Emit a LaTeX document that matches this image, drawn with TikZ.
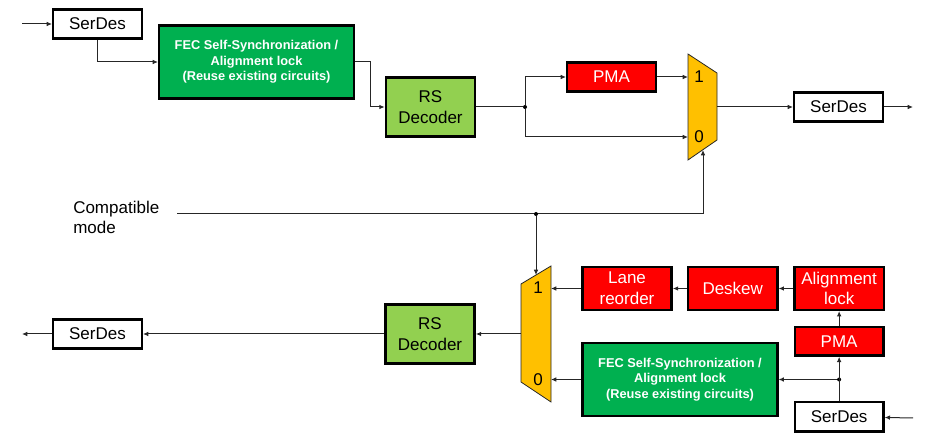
\documentclass[tikz,border=0pt]{standalone}
\usepackage{fontspec}
\setmainfont{Liberation Sans}
\usetikzlibrary{arrows.meta,positioning}

\definecolor{fecgreen}{HTML}{00B050}
\definecolor{rsgreen}{HTML}{92D050}
\definecolor{muxyellow}{HTML}{FFC000}

\begin{document}
\begin{tikzpicture}[x=0.75pt,y=-0.75pt,>={Latex[length=4pt,width=3.5pt]},
  font=\fontsize{12.75}{15.5}\selectfont,
  box/.style={draw,line width=1.8pt,minimum width=66.5pt,minimum height=22pt,inner sep=1pt,align=center},
  serdes/.style={box,fill=white},
  fec/.style={box,fill=fecgreen,text=white,minimum width=146pt,minimum height=55pt,
              font=\fontsize{9.6}{11.6}\selectfont\bfseries},
  rs/.style={box,fill=rsgreen,minimum width=67pt,minimum height=44pt},
  redbox/.style={box,fill=red,text=white,minimum height=21.5pt},
  tallred/.style={redbox,minimum width=67pt,minimum height=32pt},
  mux/.style={draw=black!85,line width=0.6pt,fill=muxyellow},
  port/.style={inner sep=0pt},
  wire/.style={draw=black!85,line width=0.75pt},
  arr/.style={wire,->},
  dot/.style={circle,fill=black,inner sep=0pt,minimum size=3pt}]

  \useasboundingbox (0,0) rectangle (928,434);

  % ==========================================
  % TOP: TRANSMIT PATH
  % ==========================================
  \node[serdes] (sd_in) at (97.5,24) {SerDes};
  \coordinate (tx_in) at (22,24);
  \node[fec] (fec_tx) at (256.5,62) {FEC Self-Synchronization /\\Alignment lock\\(Reuse existing circuits)};
  \node[rs] (rs_tx) at (430.5,107) {RS\\Decoder};
  \node[dot] (split_tx) at (525,107) {};
  \node[redbox] (pma_tx) at (611.5,77) {PMA};

  % Top multiplexer
  \draw[mux] (688,54) -- (717,73) -- (717,140) -- (688,160) -- cycle;
  \node[port] (mux_tx_lbl1) at (699,77) {1};
  \node[port] (mux_tx_lbl0) at (699,137) {0};
  \coordinate (mux_tx_1) at (688,77);
  \coordinate (mux_tx_0) at (688,137);
  \coordinate (mux_tx_out) at (717,107);
  \coordinate (mux_tx_sel) at (703,150);

  \node[serdes] (sd_tx_out) at (838.5,107) {SerDes};
  \coordinate (tx_out) at (913,107);

  \draw[arr] (tx_in) -- (sd_in);
  \draw[arr] (sd_in) |- (fec_tx);
  \draw[arr] (fec_tx.east) -- ++(15,0) |- (rs_tx);
  \draw[wire] (rs_tx) -- (split_tx);
  \draw[arr] (split_tx) |- (pma_tx);
  \draw[arr] (split_tx) |- (mux_tx_0);
  \draw[arr] (pma_tx) -- (mux_tx_1);
  \draw[arr] (mux_tx_out) -- (sd_tx_out);
  \draw[arr] (sd_tx_out) -- (tx_out);

  % ==========================================
  % COMPATIBLE MODE SELECT
  % ==========================================
  \node[inner sep=0pt,anchor=west,align=left,font=\fontsize{12.75}{15}\selectfont] (mode) at (73,217) {Compatible\\mode};
  \coordinate (mode_end) at (177,214);
  \draw[arr] (mode_end) -| (mux_tx_sel);
  \node[dot] (split_mode) at (536,214) {};

  % ==========================================
  % BOTTOM: RECEIVE PATH
  % ==========================================
  % Bottom multiplexer
  \draw[mux] (521,284) -- (551,266) -- (551,402) -- (521,382) -- cycle;
  \node[port] (mux_rx_lbl1) at (538,288) {1};
  \node[port] (mux_rx_lbl0) at (538,380) {0};
  \coordinate (mux_rx_1) at (551,288.5);
  \coordinate (mux_rx_0) at (551,379.5);
  \coordinate (mux_rx_out) at (521,334);
  \coordinate (mux_rx_sel) at (536,275);

  \node[tallred] (lane) at (627,288.5) {Lane\\reorder};
  \node[tallred,right=10.5pt of lane] (deskew) {Deskew};
  \node[tallred,right=11pt of deskew] (align) {Alignment\\lock};
  \node[redbox,below=11pt of align] (pma_rx) {PMA};
  \node[serdes,below=33pt of pma_rx] (sd_rx_in) {SerDes};
  \node[fec] (fec_rx) at (680,379.5) {FEC Self-Synchronization /\\Alignment lock\\(Reuse existing circuits)};
  \node[dot] (split_rx) at (sd_rx_in.north |- fec_rx.east) {};
  \coordinate (rx_in) at (913,418);

  \node[rs] (rs_rx) at (430,334) {RS\\Decoder};
  \node[serdes] (sd_rx_out) at (97.5,334) {SerDes};
  \coordinate (rx_out) at (22,334);

  \draw[arr] (rx_in) -- (sd_rx_in);
  \draw[arr] (sd_rx_in) -- (pma_rx);
  \draw[arr] (split_rx) -- (fec_rx);
  \draw[arr] (pma_rx) -- (align);
  \draw[arr] (align) -- (deskew);
  \draw[arr] (deskew) -- (lane);
  \draw[arr] (lane) -- (mux_rx_1);
  \draw[arr] (fec_rx) -- (mux_rx_0);
  \draw[arr] (split_mode) -- (mux_rx_sel);
  \draw[arr] (mux_rx_out) -- (rs_rx);
  \draw[arr] (rs_rx) -- (sd_rx_out);
  \draw[arr] (sd_rx_out) -- (rx_out);

\end{tikzpicture}
\end{document}
